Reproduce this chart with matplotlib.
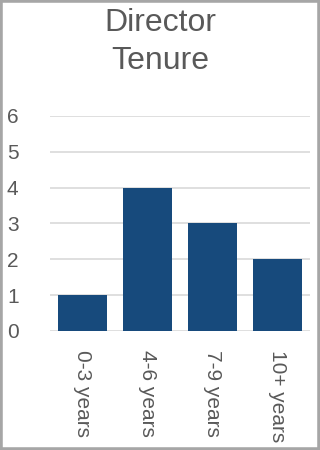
import matplotlib
matplotlib.use("Agg")
import matplotlib.pyplot as plt
from matplotlib.patches import Rectangle
from matplotlib.transforms import ScaledTranslation

plt.rcParams["font.family"] = ["Liberation Sans", "DejaVu Sans"]

categories = ["0-3 years", "4-6 years", "7-9 years", "10+ years"]
counts = [1, 4, 3, 2]
yticks = [0, 1, 2, 3, 4, 5, 6]

TEXT = "#595959"
BAR = "#174A7C"
GRID = "#D9D9D9"

fig = plt.figure(figsize=(3.2, 4.5), dpi=100)
ax = fig.add_axes([50 / 320, 1 - 331 / 450, 260 / 320, 215 / 450])

x = range(len(categories))
ax.bar(x, counts, width=0.74, color=BAR, zorder=3)
ax.set_xlim(-0.5, len(categories) - 0.5)
ax.set_ylim(0, 6)

ax.set_yticks(yticks)
ax.set_yticklabels([str(v) for v in yticks], ha="left", va="center")
ax.set_xticks(list(x))
ax.set_xticklabels(categories, rotation=270, ha="center", va="top")
ax.tick_params(axis="y", length=0, pad=31, labelsize=15, labelcolor=TEXT)
ax.tick_params(axis="x", length=0, pad=14, labelsize=15, labelcolor=TEXT)
# nudge y labels a touch below their gridlines
shift = ScaledTranslation(0, -2 / 100, fig.dpi_scale_trans)
for lab in ax.get_yticklabels():
    lab.set_transform(lab.get_transform() + shift)
ax.grid(axis="y", color=GRID, lw=1.2, zorder=0)
for s in ax.spines.values():
    s.set_visible(False)

fig.text(0.5, 1 - 8 / 450, "Director\nTenure", ha="center", va="top",
         fontsize=23, color=TEXT, linespacing=1.35)

# outer frame
fig.patches.append(Rectangle((0, 0), 1, 1, transform=fig.transFigure,
                             fill=False, edgecolor="#A6A6A6", lw=4))

fig.savefig("out.png", dpi=100)
